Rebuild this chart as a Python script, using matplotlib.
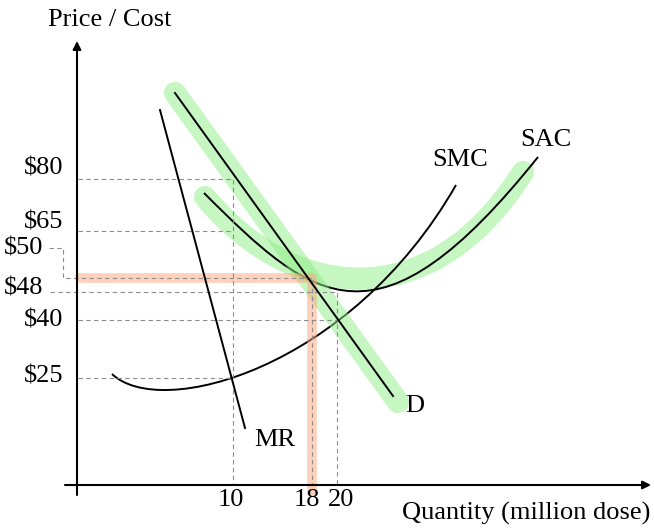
import matplotlib
matplotlib.use("Agg")
import matplotlib.pyplot as plt
from matplotlib.path import Path
from matplotlib.patches import PathPatch

plt.rcParams['font.family'] = ['Liberation Serif', 'DejaVu Serif']

# schematic positions (units = distance from the axes origin)
q_labels = ['10', '18', '20']
q_pos = [156, 235, 260]

price_labels = ['$80', '$65', '$50', '$48', '$40', '$25']
price_pos = [306, 254, 205, 193, 165, 107]

# straight lines: start, end
demand = [(98, 392), (316, 89)]
demand_hl = [(98, 392), (321, 83)]
marginal_rev = [(83, 375), (168, 57)]

# cubic bezier control points of the cost curves
smc = [(35, 111), (83, 65), (273, 115), (379, 300)]
sac = [(127, 292), (237, 182), (301, 128), (461, 328)]
sac_hl = [(128, 288), (213, 185), (353, 165), (446, 313)]

GREEN = '#8eee85'
ORANGE = '#ffa37a'
DASH = dict(color='#8c8c8c', lw=0.8, ls=(0, (4, 3)))


def bezier(ax, pts, **kw):
    path = Path(pts, [Path.MOVETO, Path.CURVE4, Path.CURVE4, Path.CURVE4])
    ax.add_patch(PathPatch(path, fill=False, **kw))


fig = plt.figure(figsize=(6.54, 5.28), dpi=100)
ax = fig.add_axes([0, 0, 1, 1])
ax.set_xlim(-77, 577)
ax.set_ylim(-43, 485)
ax.axis('off')

p80, p65, p50, p48, p40, p25 = price_pos
q10, q18, q20 = q_pos

# highlights
bezier(ax, sac_hl, color=GREEN, lw=16, alpha=0.5, capstyle='round')
ax.plot(*zip(*demand_hl), color=GREEN, lw=16, alpha=0.5, solid_capstyle='round')
ax.plot([3, q18, q18], [p50 + 2, p50 + 2, -7], color=ORANGE, lw=7, alpha=0.5,
        solid_capstyle='round', solid_joinstyle='round')

# guide lines
ax.plot([1, q10, q10], [p80, p80, 0], **DASH)
ax.plot([1, q10], [p65, p65], **DASH)
ax.plot([-28, -14, -14, q18, q18], [p50 + 32, p50 + 32, p50 + 2, p50 + 2, 0], **DASH)
ax.plot([-27, q20, q20], [p48, p48, 0], **DASH)
ax.plot([1, q20], [p40, p40], **DASH)
ax.plot([1, q10], [p25, p25], **DASH)

# curves
ax.plot(*zip(*demand), color='k', lw=1.4)
ax.plot(*zip(*marginal_rev), color='k', lw=1.4)
bezier(ax, smc, color='k', lw=1.4)
bezier(ax, sac, color='k', lw=1.4)

# axes
arrow = dict(arrowstyle='-|>', color='k', lw=1.5, mutation_scale=12, shrinkA=0, shrinkB=0)
ax.annotate('', xy=(0, 444), xytext=(0, -10), arrowprops=arrow)
ax.annotate('', xy=(574, 0), xytext=(-12, 0), arrowprops=arrow)

fs = 19
ax.text(-29, 465, 'Price / Cost', fontsize=fs, va='center', ha='left')
ax.text(573, -28, 'Quantity (million dose)', fontsize=fs, va='center', ha='right')

label_x = [-14, -14, -34, -34, -14, -14]
label_dy = [11, 8, 32, 4, 0, 2]
for lab, y, x, dy in zip(price_labels, price_pos, label_x, label_dy):
    ax.text(x, y + dy, lab, fontsize=fs, va='center', ha='right')

for lab, x, dx in zip(q_labels, q_pos, [-2, -5, 4]):
    ax.text(x + dx, -15, lab, fontsize=fs, va='center', ha='center')

ax.text(383, 325, 'SMC', fontsize=fs, va='center', ha='center')
ax.text(469, 345, 'SAC', fontsize=fs, va='center', ha='center')
ax.text(338, 79, 'D', fontsize=fs, va='center', ha='center')
ax.text(198, 45, 'MR', fontsize=fs, va='center', ha='center')

fig.savefig('out.png', dpi=100)
